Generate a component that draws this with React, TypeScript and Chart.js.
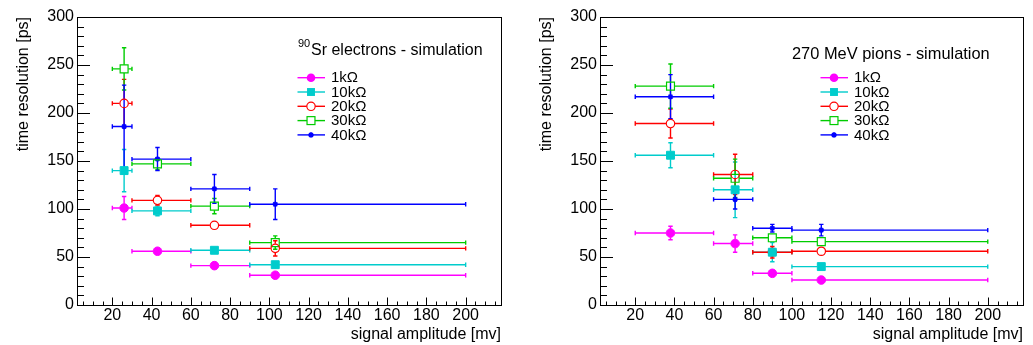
import React, { useEffect, useRef } from "react";
import { Chart, registerables } from "chart.js";

Chart.register(...registerables);

const FONT = '"Liberation Sans", Arial, Helvetica, sans-serif';

// ---------- data ----------
const seriesNames = ["1kΩ", "10kΩ", "20kΩ", "30kΩ", "40kΩ"];
const seriesColors = ["#ff00ff", "#00cccc", "#ff0000", "#00cc00", "#0000ff"];

const xTicks = [20, 40, 60, 80, 100, 120, 140, 160, 180, 200];
const yTicks = [0, 50, 100, 150, 200, 250, 300];

// 90Sr electrons
const srBinLo = [20, 30, 60, 90];
const srBinHi = [30, 60, 90, 200];
const srMean = [26, 43, 72, 103];
const sr1k = [101, 56, 41, 31];
const sr1kErr = [12, 3, 2, 2];
const sr10k = [140, 98, 57, 42];
const sr10kErr = [22, 5, 4, 2];
const sr20k = [210, 109, 83, 59];
const sr20kErr = [25, 5, 4, 8];
const sr30k = [246, 147, 103, 65];
const sr30kErr = [22, 6, 8, 7];
const sr40k = [186, 152, 121, 105];
const sr40kErr = [43, 12, 15, 16];

// 270 MeV pions
const piBinLo = [20, 60, 80, 100];
const piBinHi = [60, 80, 100, 200];
const piMean = [38, 71, 90, 115];
const pi1k = [75, 64, 33, 26];
const pi1kErr = [7, 9, 4, 2];
const pi10k = [156, 120, 55, 40];
const pi10kErr = [13, 29, 10, 2];
const pi20k = [189, 136, 55, 56];
const pi20kErr = [15, 21, 6, 2];
const pi30k = [228, 132, 70, 66];
const pi30kErr = [23, 20, 3, 2];
const pi40k = [217, 110, 80, 78];
const pi40kErr = [23, 10, 4, 6];

// ---------- styles ----------
type MarkerStyle = { pointStyle: string; radius: number; fill: boolean; gap: number; bw: number };
const markerStyles: MarkerStyle[] = [
  { pointStyle: "circle", radius: 4.3, fill: true, gap: 4.3, bw: 1 },
  { pointStyle: "rect", radius: 5.6, fill: true, gap: 4, bw: 1 },
  { pointStyle: "circle", radius: 4.2, fill: false, gap: 4.5, bw: 1.2 },
  { pointStyle: "rect", radius: 5.6, fill: false, gap: 4.2, bw: 1.2 },
  { pointStyle: "star", radius: 2.8, fill: false, gap: 0, bw: 1.5 },
];

interface PanelCfg {
  width: number;
  yAxisWidth: number;
  padRight: number;
  binLo: number[];
  binHi: number[];
  mean: number[];
  values: number[][];
  errors: number[][];
  legendX0: number;
  legendX1: number;
  legendMarkerX: number;
  legendTextX: number;
  yTitleX: number;
  title: (ctx: CanvasRenderingContext2D) => void;
}

function drawLegendMarker(ctx: CanvasRenderingContext2D, m: MarkerStyle, x: number, y: number, color: string) {
  ctx.save();
  ctx.strokeStyle = color;
  ctx.fillStyle = color;
  ctx.lineWidth = m.bw;
  if (m.pointStyle === "circle") {
    ctx.beginPath();
    ctx.arc(x, y, m.radius, 0, Math.PI * 2);
    if (m.fill) ctx.fill();
    else {
      ctx.fillStyle = "#fff";
      ctx.fill();
      ctx.stroke();
    }
  } else if (m.pointStyle === "rect") {
    const s = m.radius * Math.SQRT1_2;
    if (m.fill) ctx.fillRect(x - s, y - s, 2 * s, 2 * s);
    else {
      ctx.fillStyle = "#fff";
      ctx.fillRect(x - s, y - s, 2 * s, 2 * s);
      ctx.strokeRect(x - s, y - s, 2 * s, 2 * s);
    }
  } else {
    const r = m.radius;
    const d = r * Math.SQRT1_2;
    ctx.beginPath();
    ctx.moveTo(x - r, y);
    ctx.lineTo(x + r, y);
    ctx.moveTo(x, y - r);
    ctx.lineTo(x, y + r);
    ctx.moveTo(x - d, y - d);
    ctx.lineTo(x + d, y + d);
    ctx.moveTo(x - d, y + d);
    ctx.lineTo(x + d, y - d);
    ctx.stroke();
  }
  ctx.restore();
}

function makePlugin(cfg: PanelCfg) {
  return {
    id: "rootDecor",
    beforeDatasetsDraw(chart: any) {
      const ctx: CanvasRenderingContext2D = chart.ctx;
      const xs = chart.scales.x;
      const ys = chart.scales.y;
      const cap = 2.2;
      ctx.save();
      ctx.lineWidth = 1.4;
      cfg.values.forEach((vals, s) => {
        const g = markerStyles[s].gap;
        ctx.strokeStyle = seriesColors[s];
        vals.forEach((v, i) => {
          const px = xs.getPixelForValue(cfg.mean[i]);
          const py = ys.getPixelForValue(v);
          const xl = xs.getPixelForValue(cfg.binLo[i]);
          const xh = xs.getPixelForValue(cfg.binHi[i]);
          const yt = ys.getPixelForValue(v + cfg.errors[s][i]);
          const yb = ys.getPixelForValue(v - cfg.errors[s][i]);
          ctx.beginPath();
          if (px - g > xl) {
            ctx.moveTo(xl, py);
            ctx.lineTo(px - g, py);
          }
          if (px + g < xh) {
            ctx.moveTo(px + g, py);
            ctx.lineTo(xh, py);
          }
          ctx.moveTo(xl, py - cap);
          ctx.lineTo(xl, py + cap);
          ctx.moveTo(xh, py - cap);
          ctx.lineTo(xh, py + cap);
          if (py - yt > g) {
            ctx.moveTo(px, py - g);
            ctx.lineTo(px, yt);
            ctx.moveTo(px, py + g);
            ctx.lineTo(px, yb);
            ctx.moveTo(px - cap, yt);
            ctx.lineTo(px + cap, yt);
            ctx.moveTo(px - cap, yb);
            ctx.lineTo(px + cap, yb);
          }
          ctx.stroke();
        });
      });
      ctx.restore();
    },
    afterDraw(chart: any) {
      const ctx: CanvasRenderingContext2D = chart.ctx;
      const xs = chart.scales.x;
      const ys = chart.scales.y;
      const a = chart.chartArea;
      const L = Math.round(a.left) + 0.5;
      const B = Math.round(a.bottom) + 0.5;
      const T = Math.round(a.top) + 0.5;
      const R = Math.round(a.right) + 0.5;
      ctx.save();
      // frame
      ctx.strokeStyle = "#000";
      ctx.lineWidth = 1;
      ctx.strokeRect(L, T, R - L, B - T);
      // y ticks
      ctx.beginPath();
      for (let v = 0; v <= 300; v += 10) {
        const py = Math.round(ys.getPixelForValue(v)) + 0.5;
        const len = v % 50 === 0 ? 12.5 : 6.5;
        ctx.moveTo(L, py);
        ctx.lineTo(L + len, py);
      }
      // x ticks
      for (let v = 5; v <= 215; v += 5) {
        const px = Math.round(xs.getPixelForValue(v)) + 0.5;
        const len = v % 20 === 0 ? 8 : 4;
        ctx.moveTo(px, B);
        ctx.lineTo(px, B - len);
      }
      ctx.stroke();

      // axis titles
      ctx.fillStyle = "#000";
      ctx.font = `16px ${FONT}`;
      ctx.textAlign = "right";
      ctx.textBaseline = "alphabetic";
      ctx.fillText("signal amplitude [mv]", a.right, 339);
      ctx.save();
      ctx.translate(cfg.yTitleX, a.top);
      ctx.rotate(-Math.PI / 2);
      ctx.textAlign = "right";
      ctx.textBaseline = "middle";
      ctx.fillText("time resolution [ps]", 0, 0);
      ctx.restore();

      // panel title
      cfg.title(ctx);

      // legend
      seriesNames.forEach((name, s) => {
        const ry = 77.7 + 14.3 * s;
        ctx.strokeStyle = seriesColors[s];
        ctx.lineWidth = 1.4;
        ctx.beginPath();
        ctx.moveTo(cfg.legendX0, ry);
        ctx.lineTo(cfg.legendX1, ry);
        ctx.stroke();
        drawLegendMarker(ctx, markerStyles[s], cfg.legendMarkerX, ry, seriesColors[s]);
        ctx.fillStyle = "#000";
        ctx.font = `15px ${FONT}`;
        ctx.textAlign = "left";
        ctx.textBaseline = "middle";
        ctx.fillText(name, cfg.legendTextX, ry + 0.5);
      });
      ctx.restore();
    },
  };
}

function Panel({ cfg }: { cfg: PanelCfg }) {
  const ref = useRef<HTMLCanvasElement | null>(null);
  useEffect(() => {
    if (!ref.current) return;
    const datasets = cfg.values.map((vals, s) => {
      const m = markerStyles[s];
      return {
        label: seriesNames[s],
        data: vals.map((v, i) => ({ x: cfg.mean[i], y: v })),
        showLine: false,
        pointStyle: m.pointStyle as any,
        pointRadius: m.radius,
        pointBorderWidth: m.bw,
        pointBorderColor: seriesColors[s],
        pointBackgroundColor: m.fill ? seriesColors[s] : "rgba(0,0,0,0)",
        borderColor: seriesColors[s],
        backgroundColor: m.fill ? seriesColors[s] : "rgba(0,0,0,0)",
      };
    });
    const tickFont = { size: 16, family: FONT };
    const chart = new Chart(ref.current, {
      type: "scatter",
      data: { datasets },
      options: {
        animation: false,
        responsive: false,
        events: [],
        layout: { padding: { top: 17, right: cfg.padRight, left: 0, bottom: 0 } },
        plugins: { legend: { display: false }, tooltip: { enabled: false } },
        scales: {
          x: {
            type: "linear",
            min: 2,
            max: 218,
            afterBuildTicks: (s: any) => {
              s.ticks = xTicks.map((v) => ({ value: v }));
            },
            afterFit: (s: any) => {
              s.height = 40;
            },
            ticks: {
              font: tickFont,
              color: "#000",
              padding: 1,
              maxRotation: 0,
              autoSkip: false,
              callback: (v: any) => String(v),
            },
            grid: { display: false, drawTicks: false },
            border: { display: false },
          },
          y: {
            type: "linear",
            min: 0,
            max: 300,
            afterBuildTicks: (s: any) => {
              s.ticks = yTicks.map((v) => ({ value: v }));
            },
            afterFit: (s: any) => {
              s.width = cfg.yAxisWidth;
            },
            ticks: {
              font: tickFont,
              color: "#000",
              padding: 3,
              autoSkip: false,
              callback: (v: any) => String(v),
            },
            grid: { display: false, drawTicks: false },
            border: { display: false },
          },
        },
      } as any,
      plugins: [makePlugin(cfg) as any],
    });
    return () => chart.destroy();
  }, [cfg]);
  return <canvas ref={ref} width={cfg.width} height={345} style={{ display: "block", width: cfg.width, height: 345 }} />;
}

const leftCfg: PanelCfg = {
  width: 516,
  yAxisWidth: 77,
  padRight: 15,
  binLo: srBinLo,
  binHi: srBinHi,
  mean: srMean,
  values: [sr1k, sr10k, sr20k, sr30k, sr40k],
  errors: [sr1kErr, sr10kErr, sr20kErr, sr30kErr, sr40kErr],
  legendX0: 297.5,
  legendX1: 325,
  legendMarkerX: 311,
  legendTextX: 331,
  yTitleX: 23.5,
  title: (ctx) => {
    ctx.fillStyle = "#000";
    ctx.textAlign = "left";
    ctx.textBaseline = "alphabetic";
    ctx.font = `11px ${FONT}`;
    ctx.fillText("90", 298, 46.5);
    ctx.font = `16px ${FONT}`;
    ctx.fillText("Sr electrons - simulation", 311, 55);
  },
};

const rightCfg: PanelCfg = {
  width: 517,
  yAxisWidth: 84,
  padRight: 10,
  binLo: piBinLo,
  binHi: piBinHi,
  mean: piMean,
  values: [pi1k, pi10k, pi20k, pi30k, pi40k],
  errors: [pi1kErr, pi10kErr, pi20kErr, pi30kErr, pi40kErr],
  legendX0: 304.5,
  legendX1: 332,
  legendMarkerX: 318,
  legendTextX: 338,
  yTitleX: 30.7,
  title: (ctx) => {
    ctx.fillStyle = "#000";
    ctx.textAlign = "left";
    ctx.textBaseline = "alphabetic";
    ctx.font = `16.4px ${FONT}`;
    ctx.fillText("270 MeV pions - simulation", 276, 59.3);
  },
};

export default function App() {
  return (
    <div
      style={{
        position: "fixed",
        left: 0,
        top: 0,
        width: 1033,
        height: 345,
        background: "#fff",
        display: "flex",
        flexDirection: "row",
      }}
    >
      <Panel cfg={leftCfg} />
      <Panel cfg={rightCfg} />
    </div>
  );
}
